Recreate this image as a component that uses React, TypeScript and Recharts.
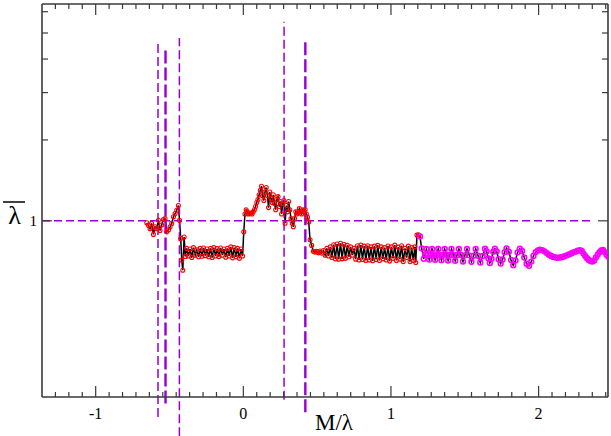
import { ComposedChart, Line, XAxis, YAxis, ReferenceLine } from 'recharts';

// ---- data ----
const xMajor = [-1, 0, 1, 2];
const xMinorPerUnit = 10; // minor ticks between two majors
const yTicks = [1, 2, 3, 4, 5, 6];
const yLabeled = [1];

// red points, x = M/lambda, y = lambda bar
const segStart: [number, number][] = [
  [-0.654, 0.983], [-0.643, 0.962], [-0.632, 0.935], [-0.621, 0.978], [-0.609, 0.89], [-0.598, 0.95],
  [-0.587, 0.935], [-0.575, 1.005], [-0.564, 0.92], [-0.553, 0.965], [-0.541, 1.012], [-0.53, 1.02],
  [-0.519, 0.91], [-0.507, 0.925], [-0.496, 0.95], [-0.485, 0.978], [-0.473, 1.035], [-0.462, 1.065],
  [-0.451, 1.095], [-0.44, 1.14], [-0.432, 1.005], [-0.424, 0.86], [-0.417, 0.714], [-0.41, 0.655],
  [-0.401, 0.87], [-0.393, 0.737],
];
const segLow: [number, number][] = [
  [-0.384, 0.79], [-0.372, 0.74], [-0.361, 0.785], [-0.349, 0.73], [-0.338, 0.795], [-0.326, 0.745],
  [-0.315, 0.78], [-0.303, 0.735], [-0.292, 0.79], [-0.28, 0.738], [-0.269, 0.792], [-0.257, 0.742],
  [-0.246, 0.785], [-0.234, 0.735], [-0.223, 0.79], [-0.211, 0.73], [-0.2, 0.795], [-0.188, 0.74],
  [-0.177, 0.788], [-0.165, 0.736], [-0.154, 0.792], [-0.142, 0.745], [-0.131, 0.785], [-0.119, 0.732],
  [-0.108, 0.79], [-0.096, 0.74], [-0.085, 0.8], [-0.073, 0.728], [-0.062, 0.795], [-0.05, 0.735],
  [-0.039, 0.79], [-0.027, 0.725], [-0.016, 0.785], [-0.005, 0.74],
];
const segHigh: [number, number][] = [
  [0.003, 0.91], [0.011, 1.06], [0.019, 1.1], [0.027, 1.08], [0.035, 1.06], [0.043, 1.065],
  [0.051, 1.07], [0.059, 1.06], [0.067, 1.08], [0.075, 1.1], [0.083, 1.13], [0.091, 1.17],
  [0.099, 1.2], [0.107, 1.25], [0.115, 1.3], [0.123, 1.345], [0.131, 1.24], [0.139, 1.19],
  [0.147, 1.28], [0.155, 1.33], [0.163, 1.24], [0.171, 1.12], [0.179, 1.28], [0.187, 1.21],
  [0.195, 1.17], [0.203, 1.25], [0.211, 1.16], [0.219, 1.1], [0.227, 1.2], [0.235, 1.23],
  [0.243, 1.13], [0.251, 1.18], [0.259, 1.06], [0.267, 1.16], [0.275, 1.19], [0.283, 0.98],
  [0.291, 1.14], [0.299, 1.08], [0.307, 1.18], [0.315, 1.1], [0.323, 1.02], [0.331, 0.98],
  [0.339, 0.95], [0.347, 1.02], [0.355, 1.08], [0.363, 1.06], [0.371, 1.07], [0.379, 1.11],
  [0.387, 1.08], [0.395, 1.06], [0.403, 1.1], [0.411, 1.08], [0.419, 1.1], [0.427, 1.06],
  [0.435, 1.03], [0.443, 0.99], [0.452, 0.85], [0.463, 0.81], [0.474, 0.77],
];
const segBand: [number, number][] = [
  [0.485, 0.765], [0.497, 0.77], [0.508, 0.76], [0.52, 0.772], [0.531, 0.758], [0.543, 0.775],
  [0.554, 0.745], [0.566, 0.79], [0.577, 0.74], [0.589, 0.8], [0.6, 0.73], [0.612, 0.815],
  [0.623, 0.722], [0.635, 0.82], [0.646, 0.72], [0.658, 0.825], [0.669, 0.722], [0.681, 0.818],
  [0.692, 0.725], [0.704, 0.81], [0.715, 0.735], [0.727, 0.8], [0.738, 0.745], [0.75, 0.79],
  [0.761, 0.72], [0.773, 0.808], [0.784, 0.715], [0.796, 0.812], [0.807, 0.718], [0.819, 0.805],
  [0.83, 0.712], [0.842, 0.808], [0.853, 0.715], [0.865, 0.8], [0.876, 0.71], [0.888, 0.805],
  [0.899, 0.718], [0.911, 0.81], [0.922, 0.712], [0.934, 0.8], [0.945, 0.722], [0.957, 0.795],
  [0.968, 0.715], [0.98, 0.806], [0.991, 0.708], [1.003, 0.8], [1.014, 0.725], [1.026, 0.812],
  [1.037, 0.712], [1.049, 0.798], [1.06, 0.72], [1.072, 0.808], [1.083, 0.705], [1.095, 0.79],
  [1.106, 0.73], [1.118, 0.805], [1.129, 0.705], [1.14, 0.795], [1.151, 0.712], [1.162, 0.8],
  [1.168, 0.7], [1.176, 0.885], [1.186, 0.888],
];
// magenta tail
const segTail: [number, number][] = [
  [1.196, 0.875], [1.208, 0.79], [1.222, 0.722], [1.231, 0.75], [1.24, 0.785], [1.25, 0.752],
  [1.259, 0.718], [1.268, 0.748], [1.278, 0.786], [1.289, 0.75], [1.299, 0.716], [1.31, 0.748],
  [1.32, 0.786], [1.331, 0.748], [1.342, 0.714], [1.353, 0.746], [1.364, 0.785], [1.376, 0.748],
  [1.387, 0.712], [1.398, 0.745], [1.41, 0.786], [1.422, 0.748], [1.435, 0.71], [1.447, 0.745],
  [1.46, 0.785], [1.474, 0.746], [1.488, 0.706], [1.501, 0.744], [1.515, 0.786], [1.53, 0.744],
  [1.545, 0.704], [1.56, 0.742], [1.574, 0.786], [1.59, 0.742], [1.605, 0.7], [1.621, 0.74],
  [1.637, 0.787], [1.648, 0.77], [1.659, 0.725], [1.67, 0.697], [1.681, 0.722], [1.693, 0.768],
  [1.704, 0.788], [1.716, 0.77], [1.729, 0.72], [1.743, 0.694], [1.756, 0.718], [1.77, 0.765],
  [1.783, 0.79], [1.798, 0.768], [1.813, 0.715], [1.828, 0.684], [1.843, 0.712], [1.858, 0.763],
  [1.873, 0.788], [1.888, 0.772], [1.903, 0.73], [1.919, 0.692], [1.935, 0.68], [1.95, 0.705],
  [1.965, 0.74], [1.98, 0.765], [1.995, 0.776], [2.01, 0.78], [2.025, 0.778], [2.04, 0.77],
  [2.055, 0.758], [2.07, 0.748], [2.085, 0.74], [2.1, 0.734], [2.115, 0.73], [2.13, 0.729],
  [2.145, 0.73], [2.16, 0.733], [2.175, 0.738], [2.19, 0.744], [2.205, 0.75], [2.22, 0.756],
  [2.235, 0.762], [2.25, 0.768], [2.265, 0.774], [2.28, 0.778], [2.292, 0.772], [2.304, 0.755],
  [2.316, 0.74], [2.328, 0.726], [2.34, 0.715], [2.352, 0.708], [2.364, 0.705], [2.376, 0.712],
  [2.388, 0.73], [2.4, 0.748], [2.412, 0.764], [2.424, 0.775], [2.436, 0.779], [2.448, 0.765],
  [2.46, 0.748], [2.472, 0.735],
];

// dashed guide lines
const guideX = [-0.578, -0.527, -0.433, 0.276, 0.42];
const guideLo = [0.186, 0.209, 0.158, 0.216, 0.194];
const guideHi = [4.59, 4.44, 4.79, 5.5, 4.63];
const hLineY = 1;
const hLineEnd = 2.36;

const X_DOMAIN: [number, number] = [-1.3636, 2.47];
const Y_DOMAIN: [number, number] = [0.221, 6.41];

const violet = '#9400d3';
const axisColor = '#3a3a3a';
const serif = '"Liberation Serif", "Times New Roman", serif';

const data = [
  ...[...segStart, ...segLow, ...segHigh, ...segBand].map(([x, y]) => ({ x, y, s: 'r' })),
  ...segTail.map(([x, y]) => ({ x, y, s: 'm' })),
];

const xTicks: number[] = [];
for (let k = Math.ceil(X_DOMAIN[0] * (xMinorPerUnit + 1)); k <= Math.floor(X_DOMAIN[1] * (xMinorPerUnit + 1)); k++) {
  xTicks.push(k / (xMinorPerUnit + 1));
}
const isMajorX = (v: number) => Math.abs(v - Math.round(v)) < 1e-6 && xMajor.includes(Math.round(v));

const BottomTick = (p: any) => {
  const v = p.payload.value;
  const major = isMajorX(v);
  return (
    <g>
      <line x1={p.x} x2={p.x} y1={p.y} y2={p.y - (major ? 11 : 5)} stroke={axisColor} strokeWidth={1.2} />
      {major && (
        <text x={p.x} y={p.y + 22} textAnchor="middle" fontFamily={serif} fontSize={16} fill="#000">
          {Math.round(v)}
        </text>
      )}
    </g>
  );
};

const TopTick = (p: any) => {
  const major = isMajorX(p.payload.value);
  return <line x1={p.x} x2={p.x} y1={p.y} y2={p.y + (major ? 11 : 5)} stroke={axisColor} strokeWidth={1.2} />;
};

const LeftTick = (p: any) => {
  const v = p.payload.value;
  const labeled = yLabeled.includes(v);
  return (
    <g>
      <line x1={p.x} x2={p.x + (labeled ? 10 : 6)} y1={p.y} y2={p.y} stroke={axisColor} strokeWidth={1.2} />
      {labeled && (
        <text x={p.x - 5} y={p.y + 5} textAnchor="end" fontFamily={serif} fontSize={15} fill="#000">
          {v}
        </text>
      )}
    </g>
  );
};

const RightTick = (p: any) => {
  const labeled = yLabeled.includes(p.payload.value);
  return <line x1={p.x} x2={p.x - (labeled ? 10 : 6)} y1={p.y} y2={p.y} stroke={axisColor} strokeWidth={1.2} />;
};

const renderDot = (p: any) => {
  const mag = p.payload.s === 'm';
  return (
    <circle
      key={`d${p.index}`}
      cx={p.cx}
      cy={p.cy}
      r={mag ? 2.4 : 2}
      fill="none"
      stroke={mag ? '#ff00ff' : '#ff0000'}
      strokeWidth={mag ? 1.6 : 1.1}
    />
  );
};

export default function App() {
  return (
    <div style={{ position: 'absolute', left: 0, top: 0, width: 611, height: 436, background: '#fff' }}>
      <ComposedChart width={611} height={436} data={data} margin={{ top: 3, right: 2, bottom: 9, left: 12 }}>
        <XAxis
          xAxisId="b"
          type="number"
          dataKey="x"
          domain={X_DOMAIN}
          allowDataOverflow
          ticks={xTicks}
          interval={0}
          height={30}
          tickSize={0}
          tickMargin={0}
          tickLine={false}
          tick={BottomTick}
          axisLine={{ stroke: axisColor, strokeWidth: 1.6 }}
        />
        <XAxis
          xAxisId="t"
          orientation="top"
          type="number"
          dataKey="x"
          domain={X_DOMAIN}
          allowDataOverflow
          ticks={xTicks}
          interval={0}
          height={1}
          tickSize={0}
          tickMargin={0}
          tickLine={false}
          tick={TopTick}
          axisLine={{ stroke: axisColor, strokeWidth: 1.6 }}
        />
        <YAxis
          yAxisId="l"
          type="number"
          scale="log"
          domain={Y_DOMAIN}
          allowDataOverflow
          ticks={yTicks}
          interval={0}
          width={30}
          tickSize={0}
          tickMargin={0}
          tickLine={false}
          tick={LeftTick}
          axisLine={{ stroke: axisColor, strokeWidth: 1.6 }}
        />
        <YAxis
          yAxisId="r"
          orientation="right"
          type="number"
          scale="log"
          domain={Y_DOMAIN}
          allowDataOverflow
          ticks={yTicks}
          interval={0}
          width={1}
          tickSize={0}
          tickMargin={0}
          tickLine={false}
          tick={RightTick}
          axisLine={{ stroke: axisColor, strokeWidth: 1.6 }}
        />
        <Line
          xAxisId="b"
          yAxisId="l"
          type="linear"
          dataKey="y"
          stroke="#000"
          strokeWidth={1.5}
          dot={renderDot}
          activeDot={false}
          isAnimationActive={false}
        />
        <ReferenceLine
          xAxisId="b"
          yAxisId="l"
          segment={[{ x: X_DOMAIN[0], y: hLineY }, { x: hLineEnd, y: hLineY }]}
          stroke={violet}
          strokeWidth={1.5}
          strokeDasharray="8 4"
          ifOverflow="visible"
        />
        {guideX.map((gx, i) => (
          <ReferenceLine
            key={i}
            xAxisId="b"
            yAxisId="l"
            segment={[{ x: gx, y: guideLo[i] }, { x: gx, y: guideHi[i] }]}
            stroke={violet}
            strokeWidth={i === 1 || i === 4 ? 2.4 : 1.5}
            strokeDasharray={i === 1 || i === 4 ? '13 4' : '9 4'}
            ifOverflow="visible"
          />
        ))}
      </ComposedChart>
      <svg width={611} height={436} style={{ position: 'absolute', left: 0, top: 0, pointerEvents: 'none' }}>
        <line x1={3} x2={25} y1={202} y2={202} stroke="#000" strokeWidth={1.5} />
        <text x={14.5} y={224} textAnchor="middle" fontFamily={serif} fontSize={26} fill="#000">
          λ
        </text>
        <text x={334} y={430} textAnchor="middle" fontFamily={serif} fontSize={23} fill="#000">
          M/λ
        </text>
      </svg>
    </div>
  );
}
